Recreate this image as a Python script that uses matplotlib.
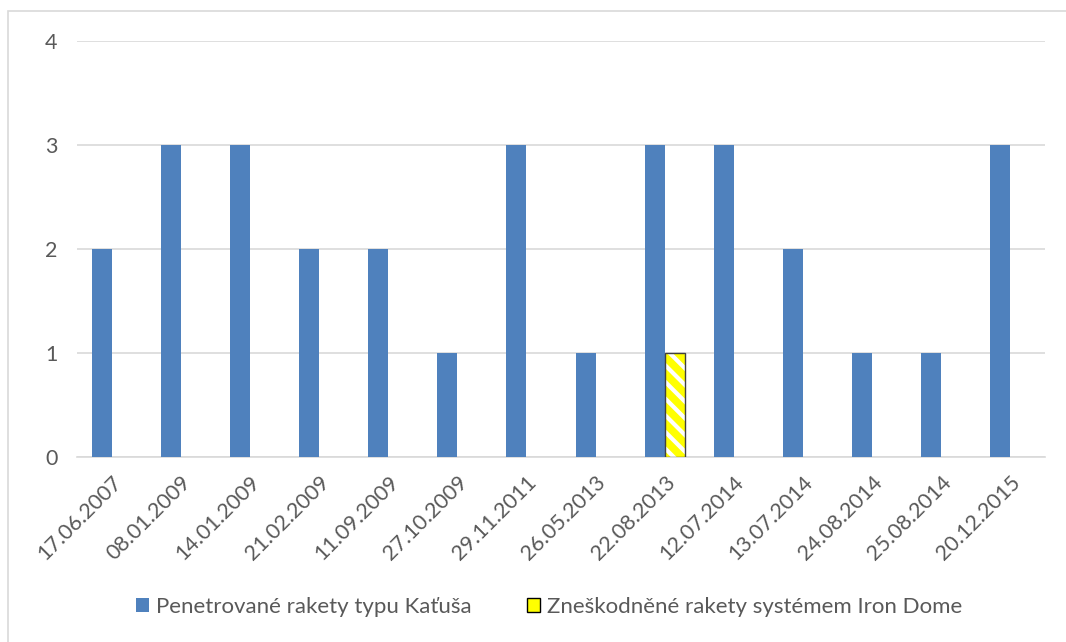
import matplotlib
matplotlib.use("Agg")
import matplotlib.pyplot as plt
import matplotlib.patches as mpatches
import numpy as np

dates = ["17.06.2007", "08.01.2009", "14.01.2009", "21.02.2009", "11.09.2009",
         "27.10.2009", "29.11.2011", "26.05.2013", "22.08.2013", "12.07.2014",
         "13.07.2014", "24.08.2014", "25.08.2014", "20.12.2015"]
katusa = [2, 3, 3, 2, 2, 1, 3, 1, 3, 3, 2, 1, 1, 3]
iron_dome = [0, 0, 0, 0, 0, 0, 0, 0, 1, 0, 0, 0, 0, 0]
series_names = ["Penetrované rakety typu Kaťuša", "Zneškodněné rakety systémem Iron Dome"]

plt.rcParams['font.family'] = ['Lato', 'DejaVu Sans']
plt.rcParams['hatch.linewidth'] = 3.0

fig = plt.figure(figsize=(10.66, 6.42), dpi=100)
ax = fig.add_axes([77/1066, 1-457/642, 968/1066, 416/642])

# outer chart border
fig.patches.append(mpatches.Rectangle((8/1066, -0.1), 1.2, (642-11)/642 + 0.1,
                                      transform=fig.transFigure, fill=False,
                                      edgecolor='#d9d9d9', linewidth=1.2))

x = np.arange(len(dates))
w = 0.29
ax.bar(x - w/2, katusa, width=w, color='#4f81bd', zorder=3)
# hatched yellow bars (white hatch) + dark outline only for non-zero bars
ax.bar(x + w/2, iron_dome, width=w, facecolor='#ffff00', edgecolor='#ffffff',
       linewidth=0, hatch='\\\\', zorder=3)
lw = [1.0 if v > 0 else 0 for v in iron_dome]
ax.bar(x + w/2, iron_dome, width=w, fill=False, edgecolor='#404040',
       linewidth=lw, zorder=4)

ax.set_xlim(-0.5, len(dates) - 0.5)
ax.set_ylim(0, 4)
ax.set_yticks([0, 1, 2, 3, 4])
ax.yaxis.grid(True, color='#d9d9d9', linewidth=1.2, zorder=0)
for s in ['top', 'right', 'left']:
    ax.spines[s].set_visible(False)
ax.spines['bottom'].set_color('#d9d9d9')
ax.spines['bottom'].set_linewidth(1.2)
ax.tick_params(axis='both', length=0, labelcolor='#595959', labelsize=15.5)
ax.tick_params(axis='y', pad=14)
ax.set_xticks(x)
ax.set_xticklabels(dates, rotation=45, ha='right', rotation_mode='anchor')
ax.tick_params(axis='x', pad=11)

handles = [mpatches.Patch(facecolor='#4f81bd', edgecolor='none'),
           mpatches.Patch(facecolor='#ffff00', edgecolor='#000000', linewidth=1.0)]
fig.legend(handles, series_names, loc='center', bbox_to_anchor=(549/1066, 1-607/642),
           ncol=2, frameon=False, fontsize=16, labelcolor='#595959',
           handlelength=0.6, handleheight=0.6, handletextpad=0.3, columnspacing=2.5)

fig.savefig("out.png", dpi=100, facecolor='white')
